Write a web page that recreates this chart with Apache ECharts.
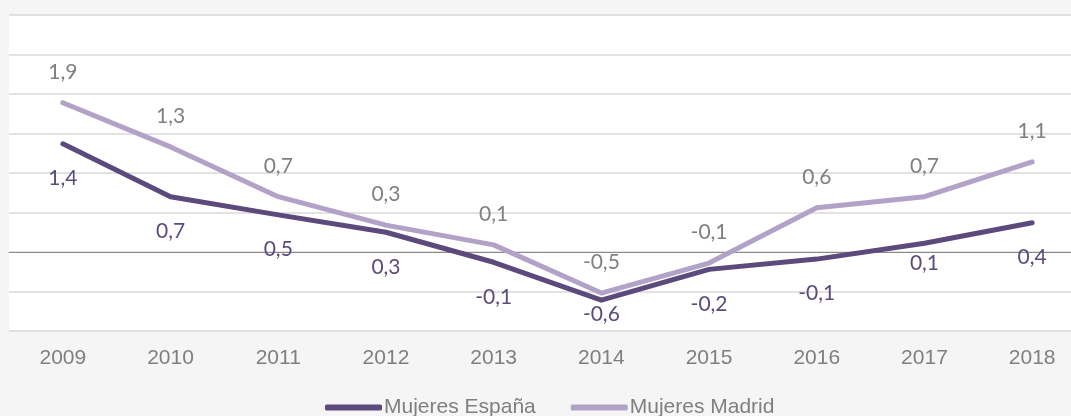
<!DOCTYPE html>
<html>
<head>
<meta charset="utf-8">
<script src="https://cdn.jsdelivr.net/npm/echarts@6/dist/echarts.min.js"></script>
<style>
html, body { margin: 0; padding: 0; background: #f5f5f5; }
#chart { width: 1071px; height: 416px; }
</style>
</head>
<body>
<div id="chart"></div>
<script>
var years = ['2009', '2010', '2011', '2012', '2013', '2014', '2015', '2016', '2017', '2018'];
var espana = [1.37, 0.70, 0.47, 0.25, -0.13, -0.61, -0.22, -0.09, 0.11, 0.37];
var madrid = [1.89, 1.33, 0.70, 0.34, 0.09, -0.52, -0.14, 0.56, 0.70, 1.14];
var seriesNames = ['Mujeres España', 'Mujeres Madrid'];

// a couple of labels sit closer to the line in the original
var espanaLabelNudge = { 5: 4, 8: 9 };

function fmt(p) {
    return p.value.toFixed(1).replace('.', ',');
}

var espanaData = espana.map(function (v, i) {
    if (espanaLabelNudge[i] != null) {
        return { value: v, label: { distance: espanaLabelNudge[i] } };
    }
    return v;
});

var myChart = echarts.init(document.getElementById('chart'));
myChart.setOption({
    backgroundColor: '#f5f5f5',
    animation: false,
    grid: {
        left: 9, top: 15, width: 1077, height: 316,
        outerBoundsMode: 'none', containLabel: false,
        show: true, backgroundColor: '#ffffff', borderWidth: 0
    },
    xAxis: {
        type: 'category',
        data: years,
        boundaryGap: true,
        axisLine: { onZero: true, lineStyle: { color: '#8a8a8a', width: 1 } },
        axisTick: { show: false },
        axisLabel: {
            color: '#7f7f7f', fontFamily: 'Liberation Sans', fontSize: 21, margin: 17
        },
        splitLine: { show: false }
    },
    yAxis: {
        type: 'value',
        min: -1, max: 3, interval: 0.5,
        axisLabel: { show: false },
        axisLine: { show: false },
        axisTick: { show: false },
        splitLine: { lineStyle: { color: '#d9d9d9', width: 1.5 } }
    },
    legend: {
        top: 392,
        left: 320,
        icon: 'roundRect',
        itemWidth: 57,
        itemHeight: 6,
        itemGap: 35,
        textStyle: {
            color: '#7f7f7f', fontFamily: 'Liberation Sans', fontSize: 21, padding: [0, 0, 0, -3]
        },
        data: seriesNames
    },
    series: [
        {
            name: seriesNames[0],
            type: 'line',
            data: espanaData,
            symbol: 'circle',
            symbolSize: 0,
            z: 3,
            lineStyle: { color: '#5c4a7d', width: 5, cap: 'round', join: 'round' },
            itemStyle: { color: '#5c4a7d' },
            label: {
                show: true, position: 'bottom', distance: 24,
                color: '#5c4a7d', fontFamily: 'Lato', fontSize: 21, formatter: fmt
            }
        },
        {
            name: seriesNames[1],
            type: 'line',
            data: madrid,
            symbol: 'circle',
            symbolSize: 0,
            z: 2,
            lineStyle: { color: '#b3a2c8', width: 5, cap: 'round', join: 'round' },
            itemStyle: { color: '#b3a2c8' },
            label: {
                show: true, position: 'top', distance: 20,
                color: '#808080', fontFamily: 'Lato', fontSize: 21, formatter: fmt
            }
        }
    ]
});
</script>
</body>
</html>
